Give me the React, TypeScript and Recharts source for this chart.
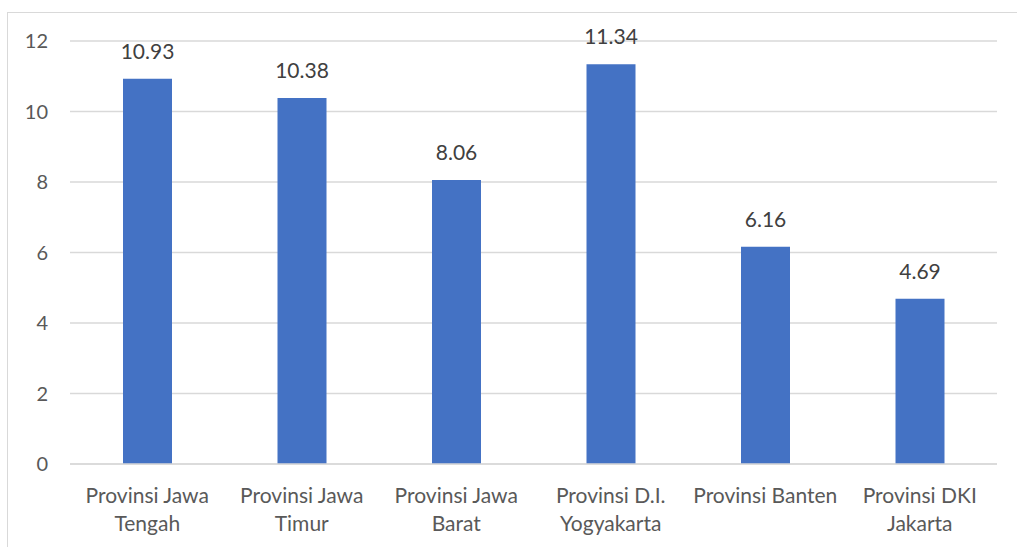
import { BarChart, Bar, XAxis, YAxis, CartesianGrid, LabelList } from "recharts"

const provinces = [
  "Provinsi Jawa Tengah",
  "Provinsi Jawa Timur",
  "Provinsi Jawa Barat",
  "Provinsi D.I. Yogyakarta",
  "Provinsi Banten",
  "Provinsi DKI Jakarta",
]
const values = [10.93, 10.38, 8.06, 11.34, 6.16, 4.69]
const yTicks = [0, 2, 4, 6, 8, 10, 12]

const data = provinces.map((name, i) => ({ name, value: values[i] }))

const FONT = "Lato, 'Open Sans', sans-serif"
const TEXT = "#595959"

// split long labels at the last space, like the original wrapping
const CategoryTick = ({ x, y, payload }: any) => {
  const label: string = payload.value
  let lines = [label]
  if (label.length > 16) {
    const idx = label.lastIndexOf(" ")
    lines = [label.slice(0, idx), label.slice(idx + 1)]
  }
  return (
    <text x={x} y={y} textAnchor="middle" fill={TEXT} fontSize={21} fontFamily={FONT}>
      {lines.map((l, i) => (
        <tspan key={i} x={x} dy={i === 0 ? 31 : 28}>
          {l}
        </tspan>
      ))}
    </text>
  )
}

export default function App() {
  return (
    <div
      style={{
        position: "absolute",
        left: 0,
        top: 0,
        width: 1017,
        height: 547,
        background: "#fff",
        overflow: "hidden",
      }}
    >
      <BarChart
        width={1017}
        height={547}
        data={data}
        margin={{ top: 41, right: 20, left: 0, bottom: 0 }}
      >
        <CartesianGrid vertical={false} stroke="#d9d9d9" strokeWidth={1.5} />
        <XAxis
          dataKey="name"
          interval={0}
          tickLine={false}
          axisLine={{ stroke: "#d9d9d9", strokeWidth: 1.5 }}
          tick={<CategoryTick />}
          height={83}
        />
        <YAxis
          width={70}
          domain={[0, 12]}
          ticks={yTicks}
          tickLine={false}
          axisLine={false}
          tickMargin={16}
          tick={{ fill: TEXT, fontSize: 20, fontFamily: FONT }}
        />
        <Bar dataKey="value" fill="#4472c4" barSize={49} isAnimationActive={false}>
          <LabelList
            dataKey="value"
            position="top"
            offset={20}
            fill="#404040"
            fontSize={21}
            fontFamily={FONT}
            formatter={(v: any) => Number(v).toFixed(2)}
          />
        </Bar>
      </BarChart>
      <div
        style={{
          position: "absolute",
          left: 7,
          top: 12,
          width: 1030,
          height: 560,
          borderTop: "1px solid #d9d9d9",
          borderLeft: "1px solid #d9d9d9",
          zIndex: 2,
          pointerEvents: "none",
        }}
      />
    </div>
  )
}
